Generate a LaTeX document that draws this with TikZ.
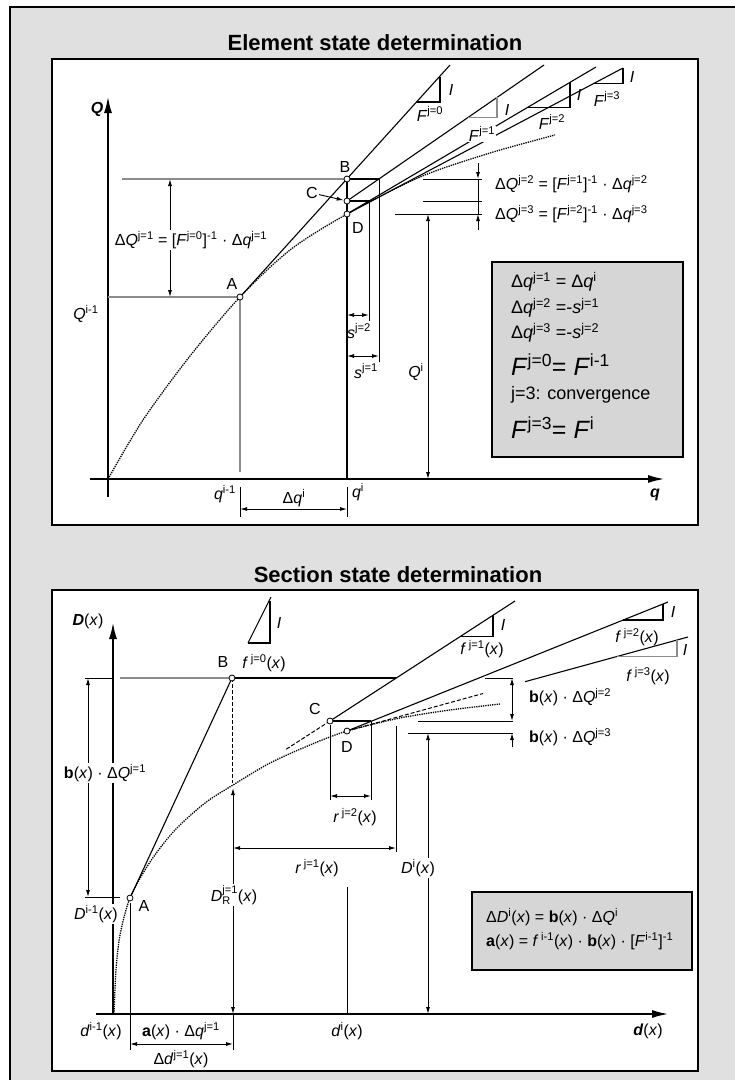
\documentclass[tikz,border=0pt]{standalone}
\usepackage{fontspec}
\setmainfont{Liberation Sans}
\usetikzlibrary{arrows.meta}
\definecolor{bg}{RGB}{224,224,224}
\definecolor{bx}{RGB}{214,214,214}
\definecolor{gln}{RGB}{140,140,140}
\newcommand\V[1]{\textit{#1}}
\newcommand\Su[1]{\textsuperscript{#1}}
\newcommand\Sm[1]{\mbox{\fontsize{11}{12}\selectfont #1}}
\begin{document}
\begin{tikzpicture}[x=1pt,y=-1pt,
  ax/.style={line width=1.4pt,-{Latex[length=16pt,width=8pt]}},
  ln/.style={line width=1.1pt},
  tl/.style={line width=0.9pt},
  gline/.style={line width=1.3pt,gln},
  dd/.style={line width=0.9pt,{Latex[length=7pt,width=4pt]}-{Latex[length=7pt,width=4pt]}},
  da/.style={line width=0.9pt,-{Latex[length=7pt,width=4pt]}},
  mk/.style={circle,draw,fill=white,inner sep=0pt,minimum size=6pt,line width=0.8pt},
  lb/.style={font=\fontsize{16}{18}\selectfont,inner sep=1pt},
  lbw/.style={lb,fill=white},
  sbx/.style={font=\fontsize{18}{20}\selectfont,inner sep=1pt},
  bigt/.style={font=\fontsize{25}{27}\selectfont,inner sep=1pt},
  crv/.style={line width=1.3pt,densely dotted},
  dsh/.style={line width=1pt,dash pattern=on 4pt off 2pt},
  panel/.style={draw,line width=1.2pt,fill=white},
  boxs/.style={draw,line width=1.2pt,fill=bx},
  ttl/.style={font=\fontsize{22}{24}\selectfont\bfseries,inner sep=0pt,anchor=base},
]
\useasboundingbox (0,0) rectangle (735,1080);
\draw[line width=1.2pt,fill=bg] (10,7) rectangle (745,1090);
\draw[panel] (52,59) rectangle (698,525);
\draw[panel] (52,590) rectangle (698,1071);
\node[ttl] (t1) at (375,50) {Element state determination};
\node[ttl] (t2) at (398,582) {Section state determination};

% ================= UPPER PANEL =================
\coordinate (O1) at (108,479);
\coordinate (A1) at (240,297);
\coordinate (B1) at (347,179);
\coordinate (C1) at (347,201);
\coordinate (D1) at (347,214);
\coordinate (QaxB) at (108,497);
\coordinate (QaxT) at (108,97);
\coordinate (qaxL) at (90,479);
\coordinate (qaxR) at (664,479);
\draw[ax] (QaxB) -- (QaxT);
\draw[ax] (qaxL) -- (qaxR);
\node[lb] (Ql) at (97,109) {\V{\textbf{Q}}};
\node[lb] (ql) at (655,495) {\V{\textbf{q}}};

% curve
\draw[crv] plot[smooth] coordinates {(108,479) (143,420) (190,356) (240,297) (290,250) (347,214) (420,177) (490,153) (555,135)};

% stiffness lines
\coordinate (F0t) at (450,65);
\coordinate (F1t) at (544,65);
\coordinate (F2t) at (596,67);
\coordinate (F3t) at (623,68);
\draw[ln] (A1) -- (F0t);
\draw[ln] (C1) -- (F1t);
\draw[ln] (D1) -- (F2t);
\draw[ln] (D1) -- (F3t);
\draw[ln] (417,102) -- (440,102) -- (440,77);
\draw[gline] (468,117.5) -- (497,117.5) -- (497,97.4);
\draw[ln] (528,107.2) -- (570,107.2) -- (570,82.4);
\draw[ln] (593,83.9) -- (623,83.9) -- (623,68);
\node[lb] (I0) at (451,90) {\V{I}};
\node[lbw] (F0l) at (430,114) {\V{F}\Su{j=0}};
\node[lb] (I1) at (507,110) {\V{I}};
\node[lbw] (F1l) at (482,134) {\V{F}\Su{j=1}};
\node[lb] (I2) at (579,95) {\V{I}};
\node[lbw] (F2l) at (552,122) {\V{F}\Su{j=2}};
\node[lb] (I3) at (632,77) {\V{I}};
\node[lbw] (F3l) at (607,99) {\V{F}\Su{j=3}};

% construction lines
\draw[gline] (122,179) -- (B1);
\draw[gline] (108,297) -- (A1);
\draw[gline] (A1) -- (240,472);
\draw[ln] (B1) -- (347,479);
\draw[ln] (B1) -- (379,179);
\draw[ln] (C1) -- (369,201);
\draw[tl] (379,179) -- (379,362);
\draw[tl] (369,201) -- (369,321);
\draw[dd] (347,315) -- (369,315);
\draw[dd] (347,356) -- (379,356);
\node[lb] (s2l) at (359,331) {\V{s}\Su{j=2}};
\node[lb] (s1l) at (366,371) {\V{s}\Su{j=1}};

% dQ1
\draw[dd] (170,179) -- (170,297);
\node[lbw] (dQ1) at (191,240) {Δ\V{Q}\Su{j=1} = [\V{F}\Su{j=0}]\Su{-1} · Δ\V{q}\Su{j=1}};
\node[lb] (Qim1) at (86,314) {\V{Q}\Su{i-1}};

% right dims
\draw[tl] (423,179) -- (482,179);
\draw[tl] (423,201) -- (482,201);
\draw[tl] (395,214) -- (482,214);
\draw[da] (478,163) -- (478,179);
\draw[da] (478,230) -- (478,214);
\draw[tl] (478,179) -- (478,214);
\node[lb,anchor=west] (dQ2) at (494,184) {Δ\V{Q}\Su{j=2} = [\V{F}\Su{j=1}]\Su{-1} · Δ\V{q}\Su{j=2}};
\node[lb,anchor=west] (dQ3) at (494,214) {Δ\V{Q}\Su{j=3} = [\V{F}\Su{j=2}]\Su{-1} · Δ\V{q}\Su{j=3}};
\draw[dd] (428,214) -- (428,479);
\node[lb] (Qil) at (416,372) {\V{Q}\Su{i}};

% q dims
\draw[tl] (240,487) -- (240,517);
\draw[tl] (347,487) -- (347,517);
\draw[dd] (240,509) -- (347,509);
\node[lb] (qim1) at (225,494) {\V{q}\Su{i-1}};
\node[lb] (qi) at (358,492) {\V{q}\Su{i}};
\node[lb] (dqi) at (294,498) {Δ\V{q}\Su{i}};

% markers
\node[mk] (A1m) at (A1) {};
\node[mk] (B1m) at (B1) {};
\node[mk] (C1m) at (C1) {};
\node[mk] (D1m) at (D1) {};
\node[lb] (Al) at (232,284) {A};
\node[lb] (Bl) at (345,167) {B};
\node[lb] (Cl) at (312,193) {C};
\node[lb] (Dl) at (358,228) {D};
\draw[da] (Cl) -- (C1m);

% box 1
\draw[boxs] (492,262) rectangle (683,457);
\node[sbx,anchor=west] (b1) at (510,282) {Δ\V{q}\Su{j=1} = Δ\V{q}\Su{i}};
\node[sbx,anchor=west] (b2) at (510,308) {Δ\V{q}\Su{j=2} =-\V{s}\Su{j=1}};
\node[sbx,anchor=west] (b3) at (510,333) {Δ\V{q}\Su{j=3} =-\V{s}\Su{j=2}};
\node[bigt,anchor=west] (b4) at (510,365) {\V{F}\Su{j=0}= \V{F}\Su{i-1}};
\node[sbx,anchor=west] (b5) at (510,395) {j=3: convergence};
\node[bigt,anchor=west] (b6) at (510,428) {\V{F}\Su{j=3}= \V{F}\Su{i}};

% ================= LOWER PANEL =================
\coordinate (A2) at (130,898);
\coordinate (B2) at (232,678);
\coordinate (C2) at (330,721);
\coordinate (D2) at (347,731);
\coordinate (DaxB) at (113,1014);
\coordinate (DaxT) at (113,623);
\coordinate (daxL) at (96,1014);
\coordinate (daxR) at (668,1014);
\draw[ax] (DaxB) -- (DaxT);
\draw[ax] (daxL) -- (daxR);
\node[lb] (Dxl) at (88,621) {\V{\textbf{D}}(\V{x})};
\node[lb] (dxl) at (648,1031) {\V{\textbf{d}}(\V{x})};

\draw[crv] plot[smooth] coordinates {(114,1014) (116,970) (120,935) (130,898) (150,862) (175,830) (205,803) (233,785) (270,763) (310,745) (347,731) (400,718) (450,710) (500,704)};

% lines
\draw[ln] (A2) -- (B2);
\draw[ln] (248,643) -- (271,597);
\draw[ln] (248,643) -- (270,643) -- (270,601);
\node[lb] (If0) at (279,623) {\V{I}};
\node[lb] (f0l) at (264,663) {\V{f}\,\Su{j=0}(\V{x})};

\coordinate (f1t) at (515,601);
\coordinate (f1b) at (285,750);
\draw[ln] (C2) -- (f1t);
\draw[dsh] (C2) -- (f1b);
\draw[ln] (460,636.6) -- (493,636.6) -- (493,615.2);
\node[lb] (If1) at (503,625) {\V{I}};
\node[lb] (f1l) at (482,649) {\V{f}\,\Su{j=1}(\V{x})};

\coordinate (f2t) at (668,602);
\draw[ln] (D2) -- (f2t);
\draw[ln] (623,620) -- (663,620) -- (663,604);
\node[lb] (If2) at (673,612) {\V{I}};
\node[lb] (f2l) at (637,637) {\V{f}\,\Su{j=2}(\V{x})};

\coordinate (f3m) at (483,693.5);
\coordinate (f3a) at (525,681.7);
\coordinate (f3t) at (688,637);
\draw[dsh] (D2) -- (f3m);
\draw[ln] (f3a) -- (f3t);
\draw[gline] (617,656.5) -- (677,656.5) -- (677,640);
\node[lb] (If3) at (685,650) {\V{I}};
\node[lb] (f3l) at (648,676) {\V{f}\,\Su{j=3}(\V{x})};

% construction
\draw[gline] (120,678) -- (B2);
\draw[ln] (B2) -- (396,678);
\draw[tl] (85,678) -- (113,678);
\draw[tl] (85,897) -- (120,897);
\draw[dd] (88,678) -- (88,897);
\node[lbw] (bdQ1) at (105,773) {\textbf{b}(\V{x}) · Δ\V{Q}\Su{j=1}};
\node[lbw] (Dim1) at (96,914) {\V{D}\Su{i-1}(\V{x})};
\draw[dsh] (B2) -- (232,783);
\draw[dd] (233,788) -- (233,1014);
\node[lbw] (DR) at (234,895) {\V{D}$^{\Sm{j=1}}_{\Sm{R}}$(\V{x})};

\draw[ln] (C2) -- (371,721);
\draw[tl] (330,725) -- (330,800);
\draw[tl] (371,721) -- (371,800);
\draw[dd] (330,796) -- (371,796);
\node[lb] (r2l) at (355,817) {\V{r}\,\Su{j=2}(\V{x})};
\draw[tl] (396,726) -- (396,852);
\draw[dd] (233,848) -- (396,848);
\node[lb] (r1l) at (317,868) {\V{r}\,\Su{j=1}(\V{x})};

\draw[tl] (347,887) -- (347,1014);
\node[lb] (dil) at (347,1031) {\V{d}\Su{i}(\V{x})};
\draw[dd] (428,733) -- (428,1014);
\node[lbw] (Dil) at (418,868) {\V{D}\Su{i}(\V{x})};

\draw[tl] (485,678) -- (513,678);
\draw[tl] (418,721) -- (513,721);
\draw[tl] (408,733) -- (513,733);
\draw[dd] (512,678) -- (512,721);
\draw[da] (512,747) -- (512,733);
\node[lb,anchor=west] (bq2) at (528,697) {\textbf{b}(\V{x}) · Δ\V{Q}\Su{j=2}};
\node[lb,anchor=west] (bq3) at (528,737) {\textbf{b}(\V{x}) · Δ\V{Q}\Su{j=3}};

% bottom dims
\draw[tl] (130,903) -- (130,1050);
\draw[tl] (233,1014) -- (233,1050);
\draw[dd] (130,1044) -- (233,1044);
\node[lb] (dim1l) at (101,1031) {\V{d}\Su{i-1}(\V{x})};
\node[lb] (axl) at (181,1031) {\textbf{a}(\V{x}) · Δ\V{q}\Su{j=1}};
\node[lb] (ddl) at (181,1059) {Δ\V{d}\Su{j=1}(\V{x})};

% markers
\node[mk] (A2m) at (A2) {};
\node[mk] (B2m) at (B2) {};
\node[mk] (C2m) at (C2) {};
\node[mk] (D2m) at (D2) {};
\node[lb] (A2l) at (144,906) {A};
\node[lb] (B2l) at (223,662) {B};
\node[lb] (C2l) at (315,709) {C};
\node[lb] (D2l) at (347,747) {D};

% box 2
\draw[boxs] (472,892) rectangle (692,970);
\node[lb,anchor=west] (e1) at (485,917) {Δ\V{D}\Su{i}(\V{x}) = \textbf{b}(\V{x}) · Δ\V{Q}\Su{i}};
\node[lb,anchor=west] (e2) at (485,941) {\textbf{a}(\V{x}) = \V{f}\,\Su{i-1}(\V{x}) · \textbf{b}(\V{x}) · [\V{F}\Su{i-1}]\Su{-1}};
\end{tikzpicture}
\end{document}
